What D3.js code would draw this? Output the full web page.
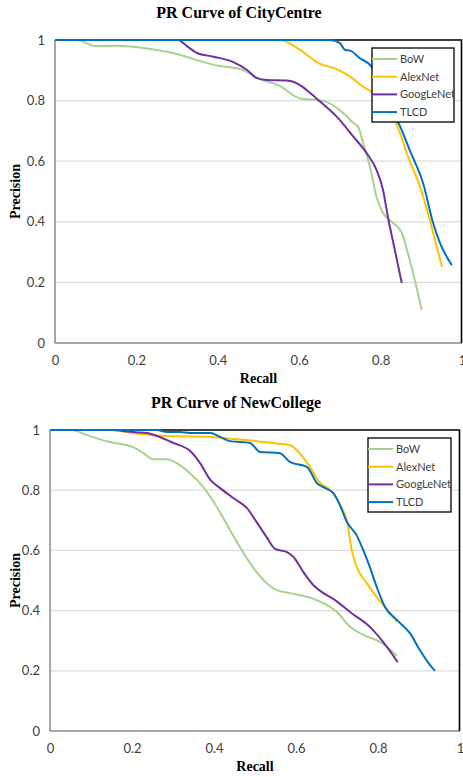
<!DOCTYPE html>
<html>
<head>
<meta charset="utf-8">
<script src="https://cdn.jsdelivr.net/npm/d3@7"></script>
<style>
  body { margin: 0; background: #fff; }
  svg { display: block; }
</style>
</head>
<body>
<svg width="463" height="777"></svg>
<script>

var tick_values = [0, 0.2, 0.4, 0.6, 0.8, 1]
var series_names = ['BoW', 'AlexNet', 'GoogLeNet', 'TLCD']
var colors = ['#a9d18e', '#ffc000', '#7030a0', '#0070c0']

////////////////////// CITYCENTRE ////////////////////////////////////

var city_bow = [[0,1],[0.054,1],[0.10,0.98],[0.15,0.981],[0.275,0.961],[0.405,0.914],[0.455,0.904],
  [0.504,0.871],[0.553,0.848],[0.60,0.808],[0.66,0.799],[0.708,0.759],[0.733,0.726],[0.745,0.713],
  [0.757,0.66],[0.774,0.581],[0.79,0.482],[0.806,0.429],[0.831,0.396],[0.852,0.363],[0.867,0.297],
  [0.884,0.208],[0.901,0.109]]
var city_alexnet = [[0,1],[0.553,1],[0.60,0.969],[0.651,0.921],[0.692,0.904],[0.725,0.879],[0.757,0.846],
  [0.79,0.818],[0.815,0.78],[0.831,0.746],[0.848,0.693],[0.864,0.627],[0.897,0.515],[0.921,0.406],
  [0.938,0.317],[0.951,0.251]]
var city_googlenet = [[0,1],[0.302,1],[0.324,0.98],[0.349,0.957],[0.389,0.945],[0.437,0.928],[0.472,0.901],
  [0.496,0.874],[0.521,0.868],[0.57,0.866],[0.602,0.851],[0.627,0.825],[0.651,0.797],[0.692,0.747],
  [0.733,0.681],[0.766,0.626],[0.79,0.571],[0.806,0.505],[0.818,0.416],[0.835,0.307],[0.852,0.198]]
var city_tlcd = [[0,1],[0.676,1],[0.70,0.99],[0.713,0.967],[0.725,0.965],[0.749,0.94],[0.778,0.912],
  [0.798,0.857],[0.823,0.78],[0.848,0.715],[0.872,0.635],[0.905,0.525],[0.929,0.396],[0.946,0.33],
  [0.975,0.257]]

////////////////////// NEWCOLLEGE ////////////////////////////////////

var college_bow = [[0,1],[0.053,1],[0.09,0.983],[0.146,0.96],[0.203,0.943],[0.228,0.923],[0.252,0.903],
  [0.285,0.903],[0.309,0.89],[0.341,0.857],[0.374,0.81],[0.407,0.744],[0.439,0.668],[0.472,0.591],
  [0.504,0.528],[0.528,0.492],[0.553,0.468],[0.585,0.458],[0.65,0.435],[0.70,0.395],[0.732,0.346],
  [0.764,0.319],[0.805,0.296],[0.846,0.25]]
var college_alexnet = [[0,1],[0.146,1],[0.203,0.99],[0.285,0.98],[0.398,0.977],[0.447,0.97],[0.496,0.964],
  [0.553,0.955],[0.585,0.95],[0.602,0.933],[0.634,0.877],[0.653,0.834],[0.691,0.79],[0.712,0.74],
  [0.724,0.70],[0.736,0.601],[0.748,0.545],[0.772,0.492],[0.797,0.445],[0.817,0.412],[0.846,0.362]]
var college_googlenet = [[0,1],[0.154,1],[0.203,0.993],[0.237,0.99],[0.261,0.98],[0.301,0.957],[0.342,0.93],
  [0.366,0.89],[0.391,0.834],[0.415,0.807],[0.447,0.774],[0.48,0.741],[0.504,0.694],[0.528,0.645],
  [0.549,0.605],[0.577,0.595],[0.594,0.578],[0.618,0.528],[0.642,0.485],[0.667,0.458],[0.69,0.44],
  [0.735,0.392],[0.78,0.346],[0.809,0.302],[0.848,0.229]]
var college_tlcd = [[0,1],[0.261,1],[0.285,0.993],[0.317,0.993],[0.342,0.99],[0.391,0.99],[0.415,0.977],
  [0.439,0.963],[0.488,0.957],[0.512,0.927],[0.561,0.923],[0.585,0.894],[0.627,0.877],[0.651,0.824],
  [0.667,0.81],[0.691,0.79],[0.707,0.751],[0.724,0.695],[0.748,0.65],[0.764,0.601],[0.78,0.545],
  [0.797,0.478],[0.817,0.412],[0.846,0.369],[0.878,0.325],[0.902,0.269],[0.927,0.219],[0.939,0.2]]

var svg = d3.select('svg')

pr_chart({
  title: 'PR Curve of CityCentre', title_x: 239, title_y: 18,
  left: 55, right: 462, top: 40, bottom: 343,
  legend: { x: 372, y: 48, w: 82, h: 74 },
  series: [city_bow, city_alexnet, city_googlenet, city_tlcd]
})

pr_chart({
  title: 'PR Curve of NewCollege', title_x: 236, title_y: 408,
  left: 50, right: 460, top: 430, bottom: 731,
  legend: { x: 368, y: 438, w: 83, h: 74 },
  series: [college_bow, college_alexnet, college_googlenet, college_tlcd]
})

function pr_chart (c) {
  var x = d3.scaleLinear().domain([0, 1]).range([c.left, c.right])
  var y = d3.scaleLinear().domain([0, 1]).range([c.bottom, c.top])
  var g = svg.append('g')

  g.append('text')
    .attr('x', c.title_x).attr('y', c.title_y)
    .attr('text-anchor', 'middle')
    .style('font', 'bold 16px "Liberation Serif", "Times New Roman", serif')
    .text(c.title)

  // gridlines
  g.append('g').selectAll('line')
    .data(tick_values.filter((v) => v > 0 && v < 1))
    .enter().append('line')
      .attr('x1', c.left).attr('x2', c.right)
      .attr('y1', (d) => y(d)).attr('y2', (d) => y(d))
      .attr('stroke', '#dcdcdc').attr('stroke-width', 1.3)

  var y_axis = g.append('g')
    .attr('transform', 'translate(' + c.left + ',0)')
    .call(d3.axisLeft(y).tickValues(tick_values).tickSize(0).tickPadding(10).tickFormat(d3.format('~g')))
  var x_axis = g.append('g')
    .attr('transform', 'translate(0,' + c.bottom + ')')
    .call(d3.axisBottom(x).tickValues(tick_values).tickSize(0).tickPadding(13).tickFormat(d3.format('~g')))

  ;[y_axis, x_axis].forEach((a) => {
    a.select('.domain').remove()
    a.selectAll('text')
      .style('font', '13px Lato, "Open Sans", sans-serif')
      .attr('fill', '#404040')
  })

  // frame: grey axes, black top and right edge
  g.append('line').attr('x1', c.left).attr('x2', c.left).attr('y1', c.top).attr('y2', c.bottom)
    .attr('stroke', '#8a8a8a').attr('stroke-width', 1.5)
  g.append('line').attr('x1', c.left).attr('x2', c.right).attr('y1', c.bottom).attr('y2', c.bottom)
    .attr('stroke', '#8a8a8a').attr('stroke-width', 1.5)
  g.append('path')
    .attr('d', 'M' + c.left + ',' + c.top + 'H' + (c.right - 0.5) + 'V' + c.bottom)
    .attr('fill', 'none').attr('stroke', '#000').attr('stroke-width', 1.6)

  g.append('text')
    .attr('x', (c.left + c.right) / 2).attr('y', c.bottom + 40)
    .attr('text-anchor', 'middle')
    .style('font', 'bold 14px "Liberation Serif", "Times New Roman", serif')
    .text('Recall')

  g.append('text')
    .attr('transform', 'translate(20,' + (c.top + c.bottom) / 2 + ') rotate(-90)')
    .attr('text-anchor', 'middle')
    .style('font', 'bold 14px "Liberation Serif", "Times New Roman", serif')
    .text('Precision')

  var line = d3.line()
    .x((d) => x(d[0]))
    .y((d) => y(d[1]))
    .curve(d3.curveMonotoneX)

  g.append('g').selectAll('path')
    .data(c.series)
    .enter().append('path')
      .attr('d', line)
      .attr('fill', 'none')
      .attr('stroke', (d, i) => colors[i])
      .attr('stroke-width', 2)
      .attr('stroke-linejoin', 'round')

  // legend
  var lg = g.append('g').attr('transform', 'translate(' + c.legend.x + ',' + c.legend.y + ')')
  lg.append('rect')
    .attr('width', c.legend.w).attr('height', c.legend.h)
    .attr('fill', '#fff').attr('stroke', '#000').attr('stroke-width', 1.3)
  var rows = lg.selectAll('.row')
    .data(series_names)
    .enter().append('g')
      .attr('class', 'row')
      .attr('transform', (d, i) => 'translate(0,' + (11 + i * 17.7) + ')')
  rows.append('line')
    .attr('x1', 0).attr('x2', 25)
    .attr('stroke', (d, i) => colors[i]).attr('stroke-width', 2)
  rows.append('text')
    .attr('x', 28).attr('dy', '0.35em')
    .style('font', '11px Lato, "Open Sans", sans-serif')
    .attr('fill', '#404040')
    .text((d) => d)
}

</script>
</body>
</html>
